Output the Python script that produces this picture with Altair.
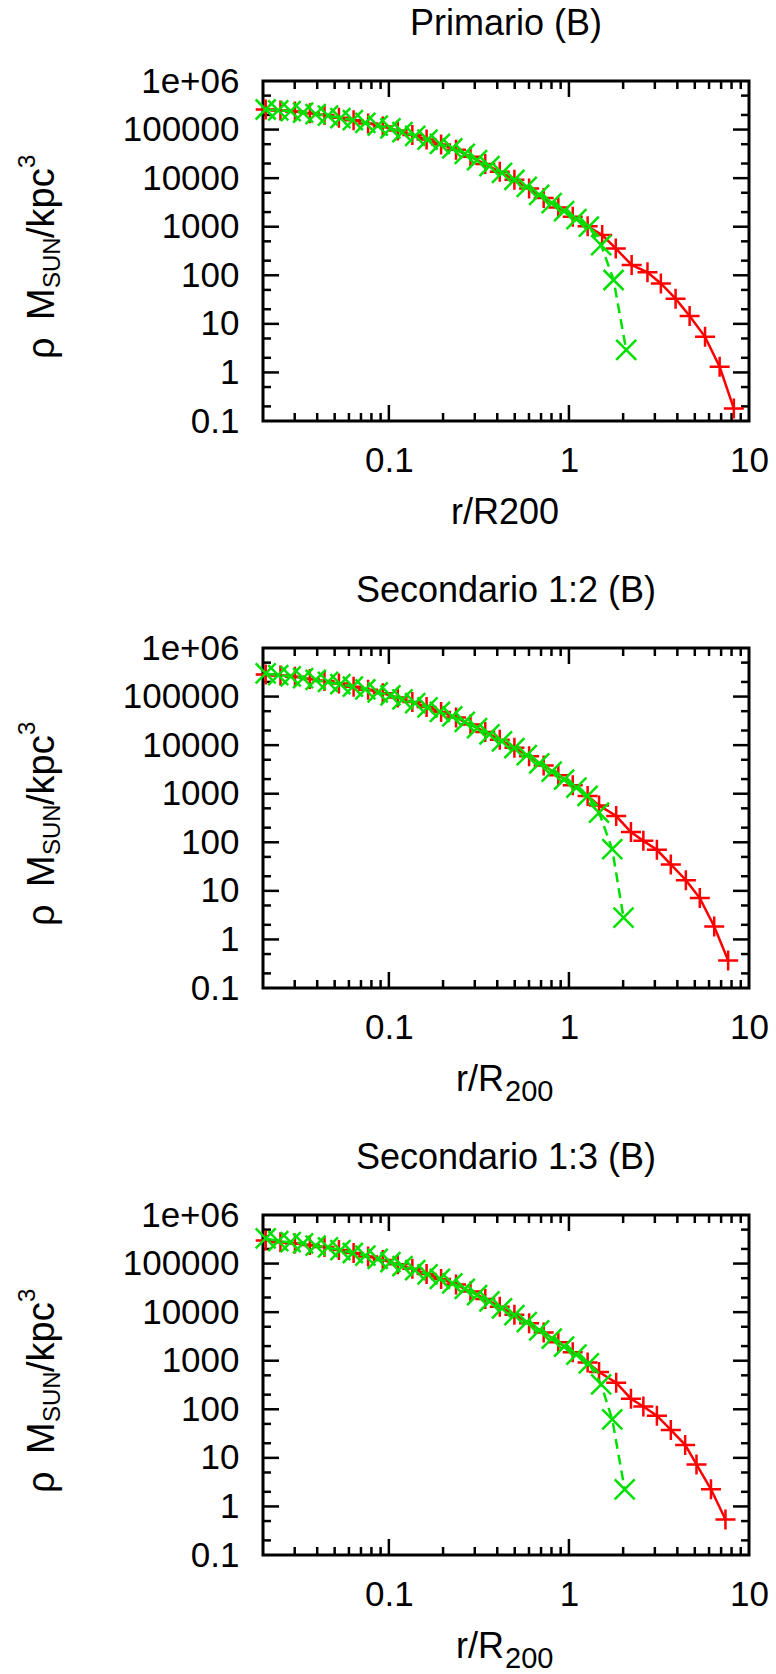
import altair as alt
import pandas as pd

# ---------------- data ----------------
TITLES = ["Primario (B)", "Secondario 1:2 (B)", "Secondario 1:3 (B)"]

# Panel 1 - red (+, solid)
R1_X = [0.0207, 0.0250, 0.0301, 0.0364, 0.0439, 0.0528, 0.0637, 0.0767, 0.0925, 0.112, 0.135,
        0.162, 0.195, 0.236, 0.284, 0.343, 0.413, 0.498, 0.601, 0.724, 0.873, 1.05, 1.27,
        1.53, 1.82, 2.23, 2.73, 3.24, 3.91, 4.68, 5.70, 6.87, 8.24]
R1_Y = [2.59e5, 2.48e5, 2.35e5, 2.16e5, 1.99e5, 1.75e5, 1.55e5, 1.34e5, 1.15e5, 9.57e4, 7.76e4,
        6.27e4, 4.93e4, 3.86e4, 2.75e4, 1.95e4, 1.35e4, 9250, 6150, 3920, 2500, 1600, 1020,
        675, 357, 163, 115, 68, 33, 14.5, 5.4, 1.31, 0.18]
# Panel 1 - green (x, dashed)
G1_X = [0.0207, 0.0243, 0.0285, 0.0334, 0.0392, 0.0459, 0.0538, 0.0631, 0.0740, 0.0867, 0.102,
        0.119, 0.140, 0.164, 0.192, 0.225, 0.264, 0.309, 0.362, 0.425, 0.498, 0.583, 0.684,
        0.802, 0.940, 1.10, 1.29, 1.51, 1.77, 2.08]
G1_Y = [2.59e5, 2.49e5, 2.40e5, 2.24e5, 2.09e5, 1.93e5, 1.73e5, 1.56e5, 1.38e5, 1.21e5, 1.06e5,
        8.9e4, 7.45e4, 6.2e4, 5.05e4, 4.11e4, 3.17e4, 2.36e4, 1.76e4, 1.28e4, 9250, 6610, 4510,
        3070, 2090, 1430, 1000, 420, 80, 2.9]

# Panel 2
R2_X = [0.0207, 0.0250, 0.0301, 0.0364, 0.0439, 0.0528, 0.0637, 0.0767, 0.0925, 0.112, 0.135,
        0.162, 0.195, 0.236, 0.284, 0.343, 0.413, 0.498, 0.601, 0.724, 0.873, 1.05, 1.27,
        1.47, 1.83, 2.21, 2.59, 3.08, 3.68, 4.46, 5.33, 6.41, 7.66]
R2_Y = [2.85e5, 2.7e5, 2.55e5, 2.3e5, 2.1e5, 1.85e5, 1.6e5, 1.38e5, 1.17e5, 9.6e4, 7.7e4,
        6.1e4, 4.8e4, 3.7e4, 2.65e4, 1.87e4, 1.29e4, 8800, 5900, 3800, 2400, 1500, 900,
        575, 347, 162, 107, 70, 35, 16.6, 7.1, 1.85, 0.37]
G2_X = [0.0207, 0.0243, 0.0285, 0.0334, 0.0392, 0.0459, 0.0538, 0.0631, 0.0740, 0.0867, 0.102,
        0.119, 0.140, 0.164, 0.192, 0.225, 0.264, 0.309, 0.362, 0.425, 0.498, 0.583, 0.684,
        0.802, 0.940, 1.10, 1.27, 1.47, 1.74, 2.01]
G2_Y = [3.0e5, 2.75e5, 2.6e5, 2.4e5, 2.2e5, 2.0e5, 1.8e5, 1.6e5, 1.4e5, 1.22e5, 1.06e5,
        8.8e4, 7.3e4, 6.0e4, 4.85e4, 3.9e4, 3.0e4, 2.25e4, 1.67e4, 1.2e4, 8700, 6200, 4200,
        2850, 1950, 1330, 900, 410, 72, 2.8]

# Panel 3
R3_X = [0.0207, 0.0250, 0.0301, 0.0364, 0.0439, 0.0528, 0.0637, 0.0767, 0.0925, 0.112, 0.135,
        0.162, 0.195, 0.236, 0.284, 0.343, 0.413, 0.498, 0.601, 0.724, 0.873, 1.05, 1.27,
        1.47, 1.83, 2.21, 2.59, 3.08, 3.68, 4.42, 5.11, 6.15, 7.40]
R3_Y = [3.0e5, 2.75e5, 2.6e5, 2.4e5, 2.2e5, 1.9e5, 1.65e5, 1.4e5, 1.18e5, 9.7e4, 7.8e4,
        6.1e4, 4.8e4, 3.7e4, 2.65e4, 1.87e4, 1.29e4, 8800, 5900, 3800, 2400, 1500, 920,
        585, 352, 165, 114, 74, 37.5, 18.5, 7.3, 2.25, 0.54]
G3_X = [0.0207, 0.0243, 0.0285, 0.0334, 0.0392, 0.0459, 0.0538, 0.0631, 0.0740, 0.0867, 0.102,
        0.119, 0.140, 0.164, 0.192, 0.225, 0.264, 0.309, 0.362, 0.425, 0.498, 0.583, 0.684,
        0.802, 0.940, 1.10, 1.29, 1.51, 1.74, 2.04]
G3_Y = [3.3e5, 2.9e5, 2.75e5, 2.6e5, 2.35e5, 2.15e5, 1.9e5, 1.65e5, 1.45e5, 1.25e5, 1.07e5,
        8.9e4, 7.3e4, 6.0e4, 4.85e4, 3.9e4, 3.0e4, 2.25e4, 1.67e4, 1.2e4, 8700, 6200, 4200,
        2850, 1950, 1330, 880, 324, 62, 2.25]

# axis ticks / labels
X_LABELS = [0.1, 1, 10]
X_MAJOR = [0.1, 1]
X_MINOR = [0.03, 0.04, 0.05, 0.06, 0.07, 0.08, 0.09,
           0.2, 0.3, 0.4, 0.5, 0.6, 0.7, 0.8, 0.9,
           2, 3, 4, 5, 6, 7, 8, 9]
Y_LABELS = [0.1, 1, 10, 100, 1000, 10000, 100000, 1000000]
Y_MAJOR = [1, 10, 100, 1000, 10000, 100000]
Y_MINOR = [0.2, 0.5, 2, 5, 20, 50, 200, 500, 2000, 5000, 20000, 50000, 200000, 500000]

# ---------------- styling ----------------
FONT = "Liberation Sans"
W, H = 486, 340
RED = "#ff0000"
GREEN = "#00e000"
PLUS = "M-1,0L1,0M0,-1L0,1"
XSHAPE = "M-1,-1L1,1M-1,1L1,-1"

XSCALE = alt.Scale(type="log", domain=[0.02, 10], nice=False)
YSCALE = alt.Scale(type="log", domain=[0.1, 1e6], nice=False)
XAXIS = alt.Axis(values=X_LABELS, format="~g", labelFont=FONT, labelFontSize=35,
                 labelColor="black", labelPadding=22, ticks=False, tickSize=0,
                 domain=False, grid=False, title=None, labelFlush=False,
                 labelOverlap=False)
YAXIS = alt.Axis(values=Y_LABELS,
                 labelExpr="datum.value >= 1000000 ? '1e+06' : format(datum.value, '~g')",
                 labelFont=FONT, labelFontSize=35, labelColor="black", labelPadding=24,
                 ticks=False, tickSize=0, domain=False, grid=False, title=None,
                 labelFlush=False, labelOverlap=False)


def xe():
    return alt.X("r:Q", scale=XSCALE, axis=XAXIS)


def ye():
    return alt.Y("rho:Q", scale=YSCALE, axis=YAXIS)


def text(txt, x, y, size, align="center", angle=0):
    return alt.Chart(pd.DataFrame({"t": [txt]})).mark_text(
        font=FONT, fontSize=size, align=align, baseline="alphabetic",
        angle=angle, color="black"
    ).encode(text="t:N", x=alt.value(x), y=alt.value(y))


def tick_layers():
    layers = []
    for vals, ln in [(X_MAJOR, 16), (X_MINOR, 8)]:
        base = alt.Chart(pd.DataFrame({"r": vals})).mark_rule(color="black", strokeWidth=2.5)
        layers.append(base.encode(x=xe(), y=alt.value(H), y2=alt.value(H - ln)))
        layers.append(base.encode(x=xe(), y=alt.value(0), y2=alt.value(ln)))
    for vals, ln in [(Y_MAJOR, 16), (Y_MINOR, 8)]:
        base = alt.Chart(pd.DataFrame({"rho": vals})).mark_rule(color="black", strokeWidth=2.5)
        layers.append(base.encode(y=ye(), x=alt.value(0), x2=alt.value(ln)))
        layers.append(base.encode(y=ye(), x=alt.value(W), x2=alt.value(W - ln)))
    return layers


def panel(title, sub, rx, ry, gx, gy, anchor=False):
    red = pd.DataFrame({"r": rx, "rho": ry})
    green = pd.DataFrame({"r": gx, "rho": gy})
    layers = tick_layers()
    layers.append(alt.Chart(red).mark_line(color=RED, strokeWidth=2.5).encode(x=xe(), y=ye()))
    layers.append(alt.Chart(red).mark_point(shape=PLUS, size=400, filled=False, strokeWidth=2.5,
                                            color=RED, opacity=1).encode(x=xe(), y=ye()))
    layers.append(alt.Chart(green).mark_line(color=GREEN, strokeWidth=2.5,
                                             strokeDash=[10, 6]).encode(x=xe(), y=ye()))
    layers.append(alt.Chart(green).mark_point(shape=XSHAPE, size=400, filled=False,
                                              strokeWidth=2.5, color=GREEN,
                                              opacity=1).encode(x=xe(), y=ye()))
    # panel title
    layers.append(text(title, W / 2, -46, 36))
    # x title
    if sub:
        layers.append(text("r/R", 241, 443, 36, align="right"))
        layers.append(text("200", 242, 453, 29, align="left"))
    else:
        layers.append(text("r/R200", 242, 443, 36))
    # y title (rotated)
    layers.append(text("\u03c1", -209, 278, 38, align="left", angle=270))
    layers.append(text("M", -209, 239, 38, align="left", angle=270))
    layers.append(text("SUN", -203, 207, 24, align="left", angle=270))
    layers.append(text("/kpc", -209, 157, 38, align="left", angle=270))
    layers.append(text("3", -228, 87, 24, align="left", angle=270))
    if anchor:
        layers.append(alt.Chart(pd.DataFrame({"t": [0]})).mark_rule(
            color="white", opacity=0, strokeWidth=1
        ).encode(x=alt.value(-261), x2=alt.value(-259), y=alt.value(-79), y2=alt.value(-77)))
    return alt.layer(*layers).properties(width=W, height=H)


p1 = panel(TITLES[0], False, R1_X, R1_Y, G1_X, G1_Y, anchor=True)
p2 = panel(TITLES[1], True, R2_X, R2_Y, G2_X, G2_Y)
p3 = panel(TITLES[2], True, R3_X, R3_Y, G3_X, G3_Y)

chart = alt.vconcat(p1, p2, p3, spacing=227, bounds="flush").properties(
    padding=0, background="white"
).configure_view(stroke="black", strokeWidth=3)

chart.save("out.html", embed_options={"renderer": "svg", "actions": False})
